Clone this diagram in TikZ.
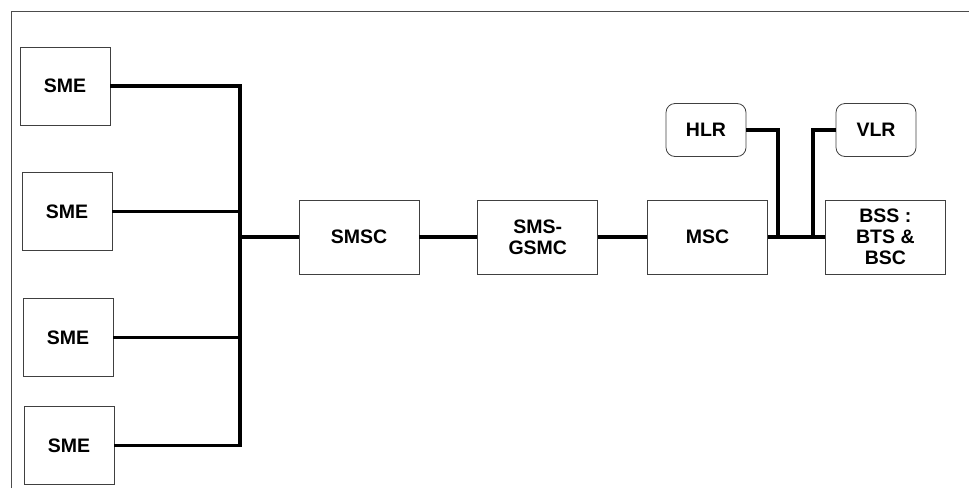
\documentclass[tikz,border=0pt]{standalone}
\usepackage{fontspec}
\setmainfont{Liberation Sans}
\usetikzlibrary{positioning,calc}

\begin{document}
\begin{tikzpicture}[
    x=1pt, y=-1pt,
    node distance=47pt and 58pt,
    unit/.style={draw=black!75, line width=0.8pt, rectangle, minimum width=120pt, minimum height=74pt, align=center, inner sep=2pt, font=\fontsize{19.5}{21}\selectfont\bfseries},
    sme/.style={unit, minimum width=90pt, minimum height=78pt},
    register/.style={unit, rounded corners=9pt, minimum width=80pt, minimum height=53pt},
    link/.style={line width=3.2pt},
    frame/.style={draw=black!70, line width=0.8pt}
]
    \useasboundingbox (0,0) rectangle (969,488);

    % Frame
    \draw [frame] (11,488) |- (969,11);

    % Message entities
    \node [sme] (sme1) at (65,86) {SME};
    \node [sme, below=of sme1, xshift=2pt] (sme2) {SME};
    \node [sme, below=of sme2, xshift=1pt] (sme3) {SME};
    \node [sme, below=29pt of sme3, xshift=1pt] (sme4) {SME};

    % Core chain
    \node [unit] (smsc) at (359,237) {SMSC};
    \node [unit, right=of smsc] (gsmc) {SMS-\\GSMC};
    \node [unit, right=49pt of gsmc] (msc) {MSC};
    \node [unit, right=57pt of msc] (bss) {BSS :\\BTS \&\\BSC};

    % Registers
    \node [register] (hlr) at (706,130) {HLR};
    \node [register] (vlr) at (876,130) {VLR};

    % Taps
    \coordinate (bus) at (240,237);
    \coordinate (hlrtap) at (778,237);
    \coordinate (vlrtap) at (813,237);

    % Connections
    \draw [link] (sme1.east) -| (bus |- sme4.east) -- (sme4.east);
    \draw [link] (sme2.east) -- (sme2.east -| bus);
    \draw [link] (sme3.east) -- (sme3.east -| bus);
    \draw [link] (bus) -- (smsc);

    \draw [link] (smsc) -- (gsmc);
    \draw [link] (gsmc) -- (msc);
    \draw [link] (msc) -- (bss);

    \draw [link] (hlr.east) -| (hlrtap);
    \draw [link] (vlr.west) -| (vlrtap);

\end{tikzpicture}
\end{document}
